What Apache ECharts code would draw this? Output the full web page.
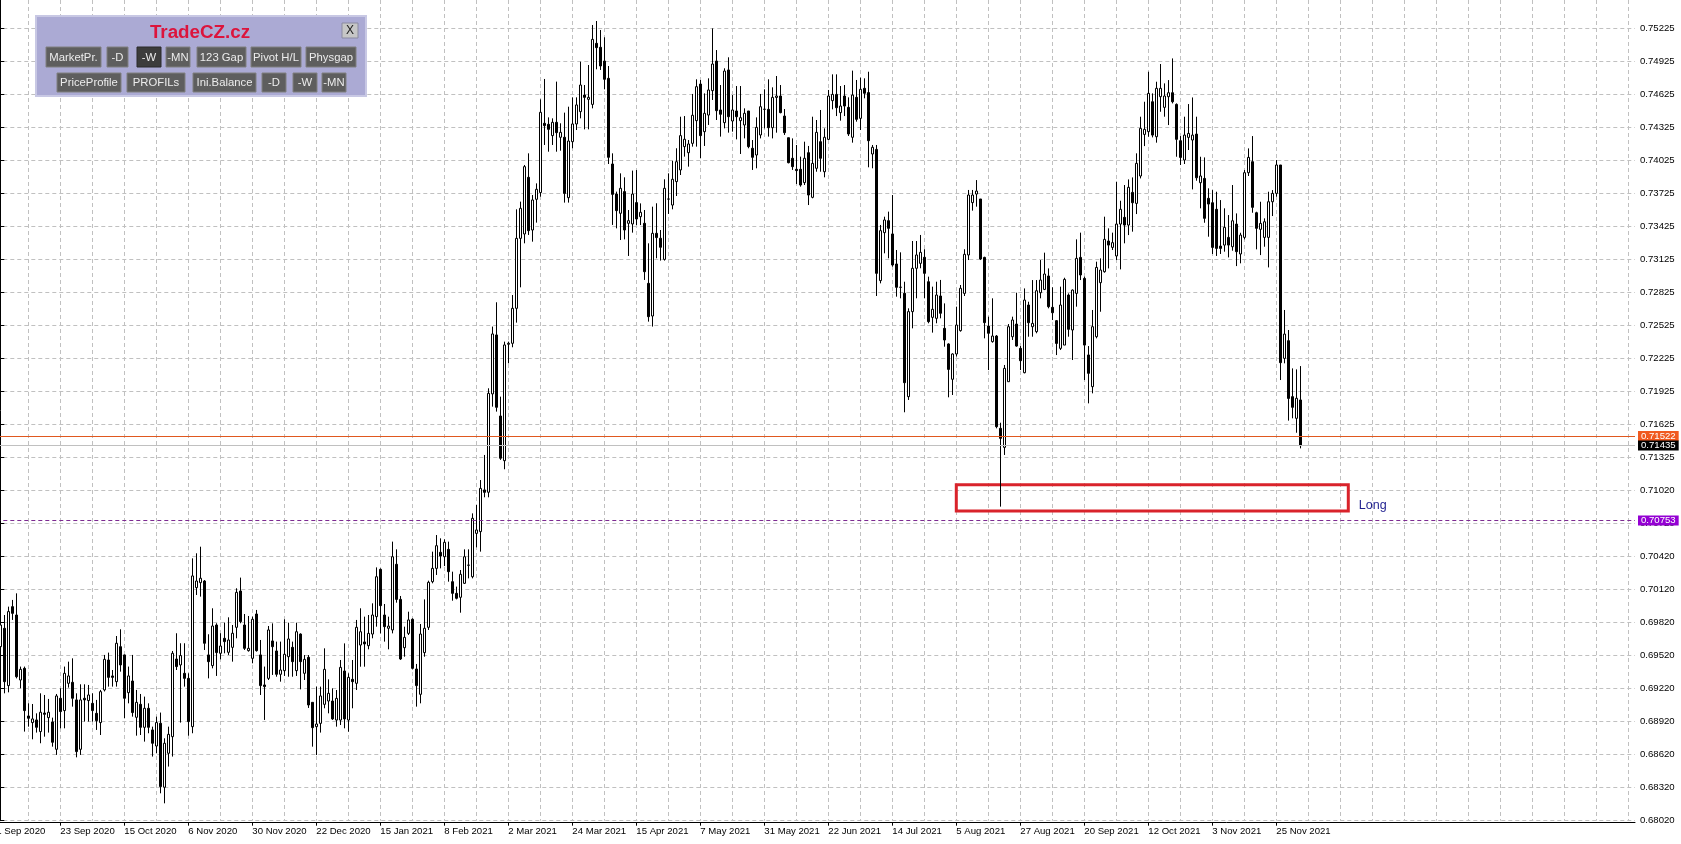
<!DOCTYPE html>
<html>
<head>
<meta charset="utf-8">
<script src="https://cdn.jsdelivr.net/npm/echarts@6/dist/echarts.min.js"></script>
<style>
html,body{margin:0;padding:0;background:#ffffff;}
#chart{width:1681px;height:844px;}
</style>
</head>
<body>
<div id="chart"></div>
<script>
// ---- tick labels ----
const xTickLabels = ['1 Sep 2020','23 Sep 2020','15 Oct 2020','6 Nov 2020','30 Nov 2020','22 Dec 2020','15 Jan 2021','8 Feb 2021','2 Mar 2021','24 Mar 2021','15 Apr 2021','7 May 2021','31 May 2021','22 Jun 2021','14 Jul 2021','5 Aug 2021','27 Aug 2021','20 Sep 2021','12 Oct 2021','3 Nov 2021','25 Nov 2021'];
const yTickLabels = ['0.68020','0.68320','0.68620','0.68920','0.69220','0.69520','0.69820','0.70120','0.70420','0.70720','0.71020','0.71325','0.71625','0.71925','0.72225','0.72525','0.72825','0.73125','0.73425','0.73725','0.74025','0.74325','0.74625','0.74925','0.75225'];

// ---- daily OHLC in points (1e-5) ----
const O = [
69607,69774,69253,69971,69895,69304,69410,68977,68917,68941,
68835,69004,68962,68923,68674,69138,69026,69274,69283,69123,
68674,69138,69117,69092,69001,68917,69214,69486,69341,69289,
69607,69532,69189,69295,68965,69083,68874,69047,68850,68704,
68911,68329,68638,68789,69495,69441,69365,69319,68880,70144,
70189,70204,69532,69435,69804,69547,69683,69556,69601,69783,
70113,69804,69571,69501,69904,69532,69259,69319,69659,69568,
69356,69389,69516,69601,69389,69722,69365,69510,69101,68880,
68910,69083,69113,69113,68940,68940,69386,68940,69310,69274,
69622,69650,69616,69722,69880,70310,69895,69774,69759,70356,
70037,69598,69728,69856,69404,69174,69553,69783,70198,70319,
70465,70425,70492,70198,70092,70056,70183,70347,70243,70637,
70653,71032,71011,71905,72441,71704,71298,72356,72365,72683,
73319,73359,73874,73395,73674,73735,74365,74356,74253,74374,
74238,74238,73689,74198,74359,74471,74622,74583,74537,75092,
75056,74931,74774,73995,73722,73547,73744,73456,73450,73644,
73516,73456,72910,72613,73365,73320,73128,73676,73622,73835,
73941,74153,74098,74183,74389,74722,74289,74440,74662,74931,
74486,74371,74850,74386,74477,74389,74350,74477,74138,74077,
74259,74492,74492,74325,74600,74613,74431,74234,74047,73947,
73947,73826,74098,73692,73956,74198,73925,74219,74571,74628,
74462,74613,74510,74238,74601,74410,74683,74644,74086,74128,
72935,73371,73480,73359,73086,72874,72820,71880,72653,73047,
73092,73147,72925,72601,72592,72795,72501,72359,72038,72268,
72480,72819,73168,73644,73722,73677,73146,72522,72380,72431,
71592,71419,72016,72425,72540,72319,72098,72713,72516,72471,
72825,72855,72977,72692,72571,72319,72349,72804,72486,72819,
73146,72955,72259,71971,72425,72916,73016,73295,73237,73159,
73449,73510,73440,73737,73637,73886,74264,74289,74561,74243,
74607,74510,74607,74643,74537,74207,74031,74237,74213,74267,
73825,73864,73683,73643,73583,73249,73258,73328,73243,73449,
73177,73328,73916,74016,73552,73401,73328,73328,73652,73728,
73986,72228,72389,71880,71683,71850];
const H = [
69895,69895,69971,70032,70092,69426,69426,69092,69086,69001,
69183,69168,69132,68962,69177,69229,69426,69471,69501,69183,
69265,69265,69259,69183,69123,69214,69532,69553,69395,69704,
69765,69535,69426,69532,69214,69177,69153,69092,68880,68971,
69008,68774,68880,69568,69729,69638,69638,69365,70410,70456,
70516,70213,69720,69956,69820,69729,69826,69874,69804,70138,
70235,69904,69886,69880,69941,69668,69426,69795,69819,69653,
69653,69856,69825,69653,69825,69728,69531,69531,69101,69244,
69244,69592,69310,69228,69213,69486,69637,69365,69486,69850,
69956,69880,69895,70001,70328,70319,69995,69880,70562,70492,
70068,69789,69925,69865,69450,69813,70037,70207,70471,70622,
70592,70583,70562,70289,70153,70304,70492,70492,70819,70895,
71122,71350,71956,72517,72738,71880,72380,72380,72804,73583,
73653,73986,74092,73713,73819,74583,74768,74419,74410,74744,
74365,74462,74516,74601,74601,74925,74713,74895,75259,75295,
75213,75147,74886,74092,73744,73910,73874,73577,73935,73940,
73637,73577,73274,73607,73638,73395,73856,73910,74025,74138,
74425,74431,74213,74632,74765,74759,74637,74774,75228,75031,
74713,74865,74965,74622,74704,74704,74501,74477,74213,74419,
74632,74674,74765,74692,74795,74713,74495,74234,74228,74168,
74062,74198,74159,74425,74395,74486,74319,74668,74810,74810,
74704,74713,74601,74844,74759,74780,74774,74834,74168,74168,
73441,73516,73562,73713,73213,73192,72925,72683,73295,73295,
73350,73220,72971,72880,72925,72941,72728,72365,72274,72698,
72895,73220,73759,73759,73849,73677,73152,72607,72774,72440,
71643,72168,72540,72607,72825,72340,72864,72743,72940,72940,
73122,73189,73046,72874,72577,72880,72961,72819,72855,73310,
73371,72971,72340,72668,73107,73137,73516,73410,73371,73834,
73661,73804,73855,73873,74092,74425,74561,74834,74637,74743,
74904,74728,74758,74955,74546,74249,74425,74540,74600,74425,
74061,74055,73774,73758,73743,73667,73592,73531,73804,73546,
73370,73940,74137,74249,73561,73652,73501,73743,73758,74031,
73986,72668,72486,72137,72128,72158];
const L = [
69547,69183,69192,69850,69319,69229,68835,68880,68765,68826,
68729,68789,68826,68698,68623,68865,68865,69235,69062,68601,
68623,68926,68926,68926,68850,68804,69200,69244,69244,69244,
69380,68956,69092,68971,68798,68804,68744,68820,68608,68638,
68274,68183,68517,68608,69395,68917,69244,68798,68820,70077,
70062,69577,69319,69410,69341,69492,69547,69532,69471,69683,
69820,69577,69562,69456,69562,69168,68941,69304,69350,69334,
69289,69341,69334,69334,69341,69219,69304,69050,68698,68622,
68826,69047,69001,68941,68880,68895,68865,68834,69047,69213,
69425,69425,69583,69683,69789,69728,69653,69583,69728,70007,
69486,69516,69713,69400,69062,69092,69516,69759,70183,70259,
70319,70340,70198,70025,70037,69916,70177,70228,70228,70510,
70471,70965,70965,71789,71744,71305,71220,72183,72329,72553,
72874,73274,73350,73289,73462,73698,74168,74107,74168,74107,
74116,73644,73644,74138,74304,74410,74310,74310,74501,74856,
74850,74674,73995,73441,73410,73304,73310,73159,73371,73440,
73440,72941,72562,72517,73138,73117,73117,73541,73583,73704,
73895,74062,73971,74153,74153,74047,74159,74350,74577,74395,
74244,74319,74280,74289,74219,74086,74228,74138,73941,73956,
74228,74319,74244,74228,74280,74456,74259,74001,73941,73813,
73789,73804,73622,73683,73925,73925,73874,74213,74492,74431,
74389,74431,74250,74189,74380,74304,74592,73965,73956,72795,
72910,73183,73138,73062,72789,72774,71738,71850,72501,72774,
73047,72774,72547,72462,72547,72592,72334,71874,71895,72244,
72471,72795,73122,73571,73607,73122,72410,72122,72371,71592,
70880,71350,72016,72395,72334,72122,72092,72425,72425,72456,
72774,72849,72683,72577,72258,72304,72349,72425,72213,72698,
72940,72031,71819,71910,72410,72652,73007,73046,73213,73122,
73037,73274,73349,73380,73540,73864,74158,74243,74237,74189,
74470,74425,74349,74546,74061,73986,73995,74122,73764,73843,
73592,73461,73334,73177,73159,73177,73198,73146,73207,73067,
73092,73310,73886,73552,73219,73167,73243,73055,73522,73698,
72031,72183,71662,71683,71552,71410];
const C = [
69804,69289,69926,69910,69334,69401,69026,68956,68950,68874,
69011,68992,69011,68738,69159,69017,69365,69341,69138,68653,
69123,69123,69168,69026,68935,69198,69492,69328,69328,69638,
69441,69138,69341,69008,69101,68874,69047,68874,68729,68917,
68335,68729,68810,69547,69426,69526,69319,68926,70250,70204,
70229,69638,69471,69795,69553,69613,69653,69668,69729,70101,
69835,69592,69592,69856,69571,69253,69244,69759,69607,69356,
69395,69538,69677,69471,69743,69471,69492,69077,68871,68904,
69159,69401,69183,68950,69137,69419,68950,69328,69289,69783,
69743,69632,69728,69895,70243,69980,69789,69794,70425,70037,
69495,69692,69850,69410,69253,69722,69774,70192,70319,70525,
70431,70556,70289,70092,70047,70265,70425,70349,70774,70668,
71046,71010,71910,72450,71783,71320,72350,72365,72683,73319,
73592,73971,73389,73668,73765,74465,74344,74310,74374,74280,
74283,73728,74204,74359,74532,74713,74601,74601,75128,75053,
74886,74765,74056,73719,73571,73774,73395,73480,73722,73495,
73556,73016,72607,73365,73326,73238,73774,73677,73856,74016,
74253,74220,74177,74438,74698,74253,74456,74668,74904,74480,
74447,74840,74425,74486,74425,74416,74456,74153,74056,74328,
74516,74493,74325,74601,74613,74462,74280,74007,73971,73935,
73804,74047,73713,74001,74283,74047,74238,74613,74628,74507,
74522,74522,74268,74622,74401,74674,74638,74207,74147,73001,
73389,73486,73410,73077,72874,72875,72007,72653,73047,73168,
73192,73001,72562,72674,72804,72638,72395,72128,72268,72531,
72865,73174,73713,73713,73749,73131,72553,72456,72431,71607,
71501,72137,72516,72577,72340,72207,72758,72552,72546,72843,
72940,72995,72698,72643,72364,72713,72946,72492,72849,73137,
72986,72349,72092,72516,73055,73031,73310,73258,73280,73449,
73583,73440,73783,73643,74001,74319,74310,74637,74258,74683,
74683,74613,74643,74561,74219,74055,74258,74273,74258,73870,
73886,73501,73631,73237,73228,73228,73419,73258,73479,73198,
73349,73916,74055,73601,73410,73455,73470,73652,73728,73986,
72189,72449,71864,71783,71865,71435];

// ---- horizontal levels and zone ----
const levelPrices = [0.71522, 0.71435, 0.70753];
const levelTexts  = ['0.71522', '0.71435', '0.70753'];
const longZoneBars = [239, 337];
const longZonePrices = [0.71080, 0.70840];

// ---- axis settings ----
const yMin = 0.68025, yMax = 0.75486, yStep = 0.003;
const xMin = -1, xMax = 408.675;
const FONT = '"Liberation Sans", Arial, sans-serif';

const candles = O.map((o, i) => [i, o / 1e5, C[i] / 1e5, L[i] / 1e5, H[i] / 1e5]);

const gridDash = { color: '#c0c0c0', width: 1, type: [4, 3] };

// ---- control panel (decoration) ----
const btnRow1 = [['MarketPr.',46,55],['-D',107,21],['-W',137,24],['-MN',166,24],['123 Gap',197,49],['Pivot H/L',251,50],['Physgap',306,50]];
const btnRow2 = [['PriceProfile',57,64],['PROFILs',127,58],['Ini.Balance',193,63],['-D',262,24],['-W',293,24],['-MN',322,24]];
function button(txt, x, y, w, h, dark) {
  return [
    { type: 'rect', shape: { x: x, y: y, width: w, height: h },
      style: { fill: dark ? '#3c3c3c' : '#5e5e5e', stroke: dark ? '#2a2a2a' : '#808080', lineWidth: 1 }, z: 101 },
    { type: 'text', style: { text: txt, x: x + w / 2, y: y + h / 2 + 0.5, align: 'center', verticalAlign: 'middle',
      fill: '#ececec', fontSize: 11.3, fontFamily: FONT }, z: 102 }
  ];
}
const panelEls = [
  { type: 'rect', shape: { x: 36, y: 16, width: 330, height: 80 },
    style: { fill: '#abaad4', stroke: '#c8c8e4', lineWidth: 2 }, z: 100 },
  { type: 'text', style: { text: 'TradeCZ.cz', x: 200, y: 33, align: 'center', verticalAlign: 'middle',
    fill: '#dc143c', fontSize: 18.8, fontWeight: 'bold', fontFamily: FONT }, z: 102 },
  { type: 'rect', shape: { x: 342, y: 23, width: 16, height: 15 },
    style: { fill: '#c6c6c6', stroke: '#8a8aa0', lineWidth: 1 }, z: 101 },
  { type: 'text', style: { text: 'X', x: 350, y: 31, align: 'center', verticalAlign: 'middle',
    fill: '#202020', fontSize: 12, fontFamily: FONT }, z: 102 }
];
btnRow1.forEach((b, k) => panelEls.push(...button(b[0], b[1], 47, b[2], 20, k === 2)));
btnRow2.forEach(b => panelEls.push(...button(b[0], b[1], 73, b[2], 19, false)));

function levelLabel(k, bg) {
  return { show: true, position: 'end', distance: 3, formatter: levelTexts[k], color: '#fff',
    backgroundColor: bg, padding: [0, 3, 0, 3], lineHeight: 10, fontSize: 9.6, fontFamily: FONT };
}

const chart = echarts.init(document.getElementById('chart'), null, { renderer: 'canvas', devicePixelRatio: 1 });

chart.setOption({
  animation: false,
  backgroundColor: '#ffffff',
  grid: [
    { left: -3.7, right: 46, top: 0, bottom: 23.3, containLabel: false, outerBoundsMode: 'none' },
    { left: -3.7, width: 1280, top: 0, bottom: 23.3, containLabel: false, outerBoundsMode: 'none' }
  ],
  xAxis: [
    { type: 'value', gridIndex: 0, min: xMin, max: xMax, interval: 8, offset: 2,
      axisLine: { show: true, lineStyle: { color: '#000', width: 1 } },
      axisTick: { show: false }, axisLabel: { show: false },
      splitLine: { show: true, showMinLine: false, showMaxLine: false, lineStyle: gridDash } },
    { type: 'value', gridIndex: 1, min: xMin, max: 319, interval: 16, offset: 2,
      axisLine: { show: false },
      axisTick: { show: true, length: 3, inside: false, lineStyle: { color: '#000' } },
      splitLine: { show: false },
      axisLabel: { show: true, align: 'left', margin: 4, color: '#000', fontSize: 9.6, fontFamily: FONT,
        showMinLabel: true, showMaxLabel: true, hideOverlap: false,
        formatter: v => { const k = Math.round((v - xMin) / 16); return xTickLabels[k] || ''; } } }
  ],
  yAxis: [
    { type: 'value', gridIndex: 0, position: 'right', min: yMin, max: yMax, interval: yStep,
      axisLine: { show: true, lineStyle: { color: '#000', width: 1 } },
      axisTick: { show: true, length: 4, lineStyle: { color: '#000' } },
      splitLine: { show: true, showMaxLine: false, lineStyle: gridDash },
      axisLabel: { show: true, margin: 5, color: '#000', fontSize: 9.6, fontFamily: FONT,
        showMinLabel: true, showMaxLabel: false,
        formatter: v => {
          const k = Math.round((v - yMin) / yStep);
          if (Math.abs(v - (yMin + k * yStep)) > 1e-7) return '';
          return yTickLabels[k] || '';
        } } },
    { type: 'value', gridIndex: 1, show: false, min: yMin, max: yMax }
  ],
  series: [
    {
      type: 'candlestick',
      xAxisIndex: 0, yAxisIndex: 0,
      data: candles,
      barWidth: 3,
      silent: true,
      itemStyle: { color: '#ffffff', color0: '#000000', borderColor: '#000000', borderColor0: '#000000', borderWidth: 1 },
      markArea: {
        silent: true,
        data: [[
          { xAxis: longZoneBars[0], yAxis: longZonePrices[0],
            itemStyle: { color: 'rgba(0,0,0,0)', borderColor: '#d9232b', borderWidth: 3 },
            label: { show: true, position: 'right', distance: 9, offset: [0, 8], formatter: 'Long',
              color: '#1f1f8f', fontSize: 12.5, fontFamily: FONT } },
          { xAxis: longZoneBars[1], yAxis: longZonePrices[1] }
        ]]
      }
    },
    {
      // helper series that only carries the horizontal price levels
      type: 'line',
      xAxisIndex: 0, yAxisIndex: 0,
      data: [[xMin, yMin]],
      showSymbol: false, symbol: 'none', silent: true,
      lineStyle: { opacity: 0 },
      z: 3,
      markLine: {
        silent: true, symbol: ['none', 'none'], animation: false, precision: 5,
        data: [
          { yAxis: levelPrices[0], lineStyle: { color: '#e0581f', width: 1, type: 'solid' }, label: levelLabel(0, '#f05a20') },
          { yAxis: levelPrices[1], lineStyle: { color: '#c0c0c0', width: 1, type: 'solid' }, label: levelLabel(1, '#000000') },
          { yAxis: levelPrices[2], lineStyle: { color: '#7d2a92', width: 1, type: [4, 3] }, label: levelLabel(2, '#9400d3') }
        ]
      }
    }
  ],
  graphic: { elements: panelEls }
});
</script>
</body>
</html>
